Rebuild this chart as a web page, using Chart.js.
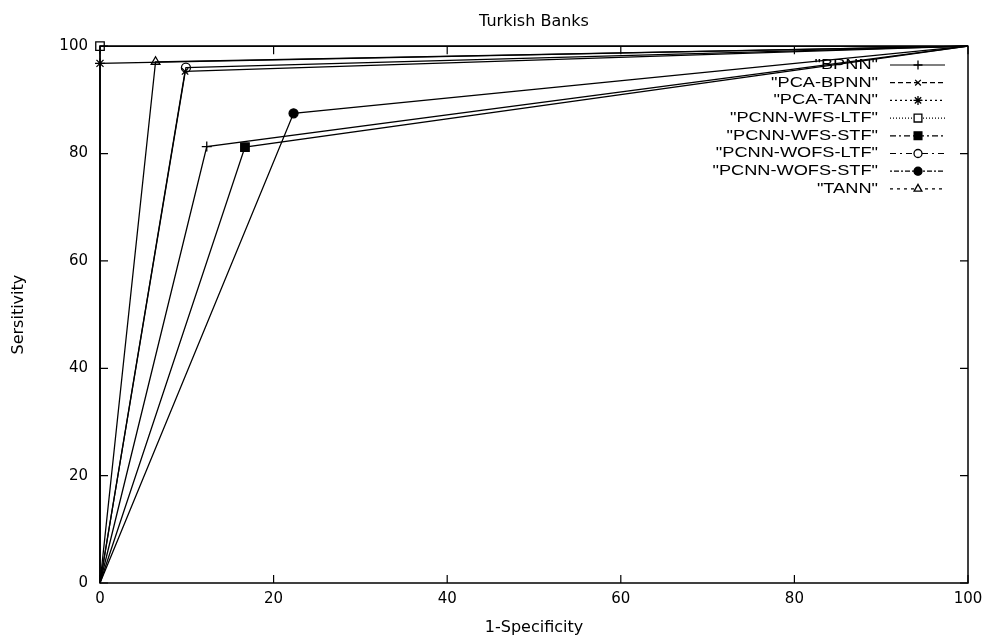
<!DOCTYPE html>
<html>
<head>
<meta charset="utf-8">
<script src="https://cdn.jsdelivr.net/npm/chart.js@4"></script>
<style>
  html, body { margin: 0; background: #fff; }
  #wrap { width: 990px; height: 639px; }
</style>
</head>
<body>
<div id="wrap"><canvas id="roc-chart"></canvas></div>
<script>
// ROC points: (1-specificity, sensitivity)
const seriesNames = ["BPNN", "PCA-BPNN", "PCA-TANN", "PCNN-WFS-LTF", "PCNN-WFS-STF", "PCNN-WOFS-LTF", "PCNN-WOFS-STF", "TANN"];

const xBPNN = [0, 12.3, 100];
const yBPNN = [0, 81.3, 100];
const xPcaBPNN = [0, 9.8, 100];
const yPcaBPNN = [0, 95.3, 100];
const xPcaTANN = [0, 0, 100];
const yPcaTANN = [0, 96.8, 100];
const xWfsLTF = [0, 0, 100];
const yWfsLTF = [0, 100, 100];
const xWfsSTF = [0, 16.7, 100];
const yWfsSTF = [0, 81.2, 100];
const xWofsLTF = [0, 9.9, 100];
const yWofsLTF = [0, 96.0, 100];
const xWofsSTF = [0, 22.3, 100];
const yWofsSTF = [0, 87.5, 100];
const xTANN = [0, 6.4, 100];
const yTANN = [0, 97.1, 100];

const tickValues = [0, 20, 40, 60, 80, 100];

const allX = [xBPNN, xPcaBPNN, xPcaTANN, xWfsLTF, xWfsSTF, xWofsLTF, xWofsSTF, xTANN];
const allY = [yBPNN, yPcaBPNN, yPcaTANN, yWfsLTF, yWfsSTF, yWofsLTF, yWofsSTF, yTANN];

// marker + legend sample styles (gnuplot-ish)
const markers = ["cross", "crossRot", "star", "rect", "rect", "circle", "circle", "triangle"];
const filled = [false, false, false, false, true, false, true, false];
const markerSize = [5, 4.5, 5, 6, 6, 4.5, 4.5, 5];
const legendDash = [[], [5, 3], [2, 3], [1, 2], [6, 3, 2, 3], [6, 4, 2, 4], [2, 2, 5, 2], [3, 4]];

const datasets = seriesNames.map((name, i) => ({
  label: name,
  data: allX[i].map((x, j) => ({x: x, y: allY[i][j]})),
  showLine: true,
  borderColor: "#000",
  borderWidth: 1.3,
  backgroundColor: filled[i] ? "#000" : "rgba(0,0,0,0)",
  pointBorderColor: "#000",
  pointBorderWidth: 1.3,
  pointStyle: markers[i],
  pointRadius: [0, markerSize[i], 0],
  pointHoverRadius: [0, markerSize[i], 0],
  tension: 0,
  clip: 8
}));

// box around the plot with inward ticks on all four sides
const framePlugin = {
  id: "frame",
  beforeDatasetsDraw(chart) {
    const {ctx, chartArea: a, scales} = chart;
    ctx.save();
    ctx.strokeStyle = "#000";
    ctx.lineWidth = 1.5;
    ctx.strokeRect(a.left, a.top, a.right - a.left, a.bottom - a.top);
    ctx.lineWidth = 1.2;
    ctx.beginPath();
    tickValues.forEach(v => {
      const px = scales.x.getPixelForValue(v);
      ctx.moveTo(px, a.bottom); ctx.lineTo(px, a.bottom - 8);
      ctx.moveTo(px, a.top); ctx.lineTo(px, a.top + 8);
      const py = scales.y.getPixelForValue(v);
      ctx.moveTo(a.left, py); ctx.lineTo(a.left + 8, py);
      ctx.moveTo(a.right, py); ctx.lineTo(a.right - 8, py);
    });
    ctx.stroke();
    ctx.restore();
  }
};

// legend drawn inside the plot, right aligned, like gnuplot's key
const keyPlugin = {
  id: "gnukey",
  afterDatasetsDraw(chart) {
    const ctx = chart.ctx;
    const textRight = 878, lineL = 890, lineR = 945, mark = 918;
    ctx.save();
    chart.data.datasets.forEach((ds, i) => {
      const y = 65 + i * 17.7;
      ctx.save();
      ctx.translate(textRight, y);
      ctx.scale(1.3, 1);
      ctx.font = "14px 'Liberation Sans', Arial, sans-serif";
      ctx.fillStyle = "#000";
      ctx.textAlign = "right";
      ctx.textBaseline = "middle";
      ctx.fillText('"' + ds.label + '"', 0, 0);
      ctx.restore();

      ctx.strokeStyle = "#000";
      ctx.lineWidth = 1.2;
      ctx.setLineDash(legendDash[i]);
      ctx.beginPath();
      ctx.moveTo(lineL, y);
      ctx.lineTo(lineR, y);
      ctx.stroke();
      ctx.setLineDash([]);
      ctx.fillStyle = filled[i] ? "#000" : "#fff";
      ctx.lineWidth = 1.3;
      Chart.helpers.drawPoint(ctx, {pointStyle: markers[i], radius: markerSize[i] - 0.5, rotation: 0, borderWidth: 1.3}, mark, y);
      if (filled[i]) ctx.fill();
    });
    ctx.restore();
  }
};

const tickFont = {family: "'DejaVu Sans', sans-serif", size: 15};

new Chart(document.getElementById("roc-chart"), {
  type: "scatter",
  data: {datasets: datasets},
  options: {
    responsive: true,
    maintainAspectRatio: false,
    animation: false,
    layout: {padding: {left: 0, right: 22, top: 0, bottom: 0}},
    plugins: {
      legend: {display: false},
      tooltip: {enabled: false},
      title: {
        display: true,
        fullSize: false,
        text: "Turkish Banks",
        color: "#000",
        font: {family: "'DejaVu Sans', sans-serif", size: 16, weight: "normal"},
        padding: {top: 12, bottom: 15}
      }
    },
    scales: {
      x: {
        type: "linear",
        min: 0,
        max: 100,
        afterBuildTicks: s => { s.ticks = tickValues.map(v => ({value: v})); },
        afterFit: s => { s.height = 56; },
        grid: {display: false, drawTicks: false},
        border: {display: false},
        ticks: {color: "#000", font: tickFont, padding: 7, maxRotation: 0},
        title: {
          display: true,
          text: "1-Specificity",
          color: "#000",
          font: {family: "'DejaVu Sans', sans-serif", size: 16},
          padding: {top: 0, bottom: 2}
        }
      },
      y: {
        type: "linear",
        min: 0,
        max: 100,
        afterBuildTicks: s => { s.ticks = tickValues.map(v => ({value: v})); },
        afterFit: s => { s.width = 100; },
        grid: {display: false, drawTicks: false},
        border: {display: false},
        ticks: {color: "#000", font: tickFont, padding: 12},
        title: {
          display: true,
          text: "Sersitivity",
          color: "#000",
          font: {family: "'DejaVu Sans', sans-serif", size: 16},
          padding: {top: 9, bottom: 0}
        }
      }
    }
  },
  plugins: [framePlugin, keyPlugin]
});
</script>
</body>
</html>
